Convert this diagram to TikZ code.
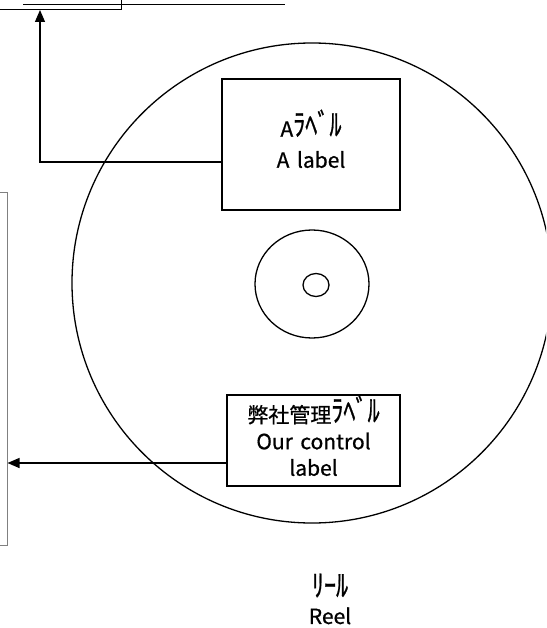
\documentclass[tikz,border=0pt]{standalone}
\usepackage{graphicx}
\usepackage{fontspec}
\setmainfont[WordSpace=1.6,FakeBold=0.8]{Noto Sans CJK JP}
\usetikzlibrary{arrows.meta,shapes.geometric}
\newcommand{\hkana}[1]{\raisebox{0.1ex}[0.75em][0.05em]{\scalebox{1.15}[1.45]{#1}}}
\tikzset{
  lbox/.style={draw, line width=1.2pt, align=center, inner sep=0pt},
  ring/.style={draw, line width=1.3pt},
  conn/.style={line width=1.3pt, -{Triangle[length=12pt,width=10pt]}},
  txt/.style={font=\fontsize{21pt}{26.5pt}\selectfont, align=center}
}
\begin{document}
\begin{tikzpicture}[x=1pt,y=-1pt]
\useasboundingbox (0,0) rectangle (546,628);
\clip (0,0) rectangle (546,628);
% top-left partial box
\draw[line width=1pt] (-5,9.5) -- (121,9.5) -- (121,-5);
\draw[line width=1pt] (23,5) -- (285,5);
\coordinate (topTarget) at (40,10);
% left partial box
\node[draw=gray, line width=1pt, minimum width=20pt, minimum height=352pt, inner sep=0pt] (leftbox) at (-3,369) {};
% reel
\draw[ring] (312,283) ellipse [x radius=240, y radius=240];
\node[ring, ellipse, minimum width=114pt, minimum height=108pt, inner sep=0pt] (hub) at (312,284) {};
\node[ring, ellipse, minimum width=26pt, minimum height=23pt, inner sep=0pt] (hole) at (316,285) {};
% labels
\node[lbox, minimum width=178pt, minimum height=131pt, txt, font=\fontsize{21pt}{31pt}\selectfont] (alabel) at (311,144.5) {A\hkana{ﾗﾍﾞﾙ}\\A label};
\node[lbox, minimum width=173pt, minimum height=91pt, txt] (ourlabel) at (313.5,440.5) {弊社管理\hkana{ﾗﾍﾞﾙ}\\Our control\\label};
\node[txt] (reel) at (330,603) {\hkana{ﾘｰﾙ}\\Reel};
% connectors
\coordinate (bend) at (40,162);
\draw[conn] (alabel.west |- bend) -- (bend) -- (topTarget);
\draw[conn] (ourlabel.west |- 0,463) -- (leftbox.east |- 0,463);
\end{tikzpicture}
\end{document}
